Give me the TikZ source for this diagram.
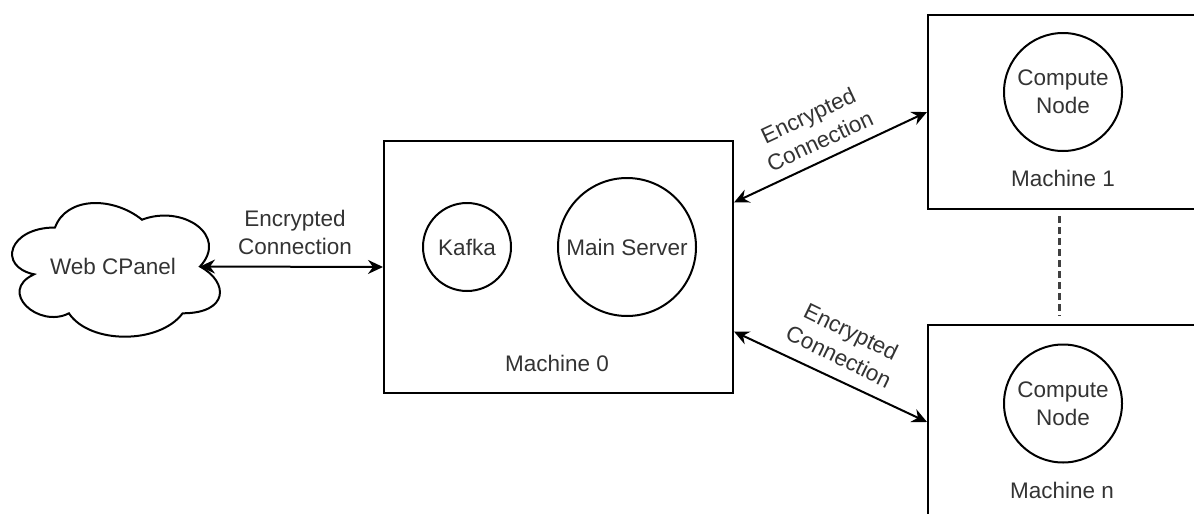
\documentclass[tikz,border=0pt]{standalone}
\usepackage{fontspec}
\setmainfont{Liberation Sans}
\usetikzlibrary{arrows.meta,calc}
\definecolor{txt}{HTML}{333333}
\begin{document}
\begin{tikzpicture}[x=0.5pt,y=-0.5pt,
  box/.style={draw, rectangle, line width=1pt, inner sep=0pt},
  proc/.style={draw, circle, line width=1pt, inner sep=0pt, text=txt,
    font=\fontsize{11.25}{14}\selectfont, align=center},
  lbl/.style={text=txt, font=\fontsize{11.25}{14}\selectfont, align=center, inner sep=0pt},
  tip/.style={Stealth[length=7.5pt,width=7pt,inset=2.5pt]},
  conn/.style={line width=1pt, {Stealth[length=7.5pt,width=7pt,inset=2.5pt]}-{Stealth[length=7.5pt,width=7pt,inset=2.5pt]}},
  dashline/.style={line width=1.5pt, black!75, dash pattern=on 3.5pt off 2pt,
    shorten <=3pt, shorten >=4pt}]
\useasboundingbox (0,0) rectangle (1194,514);
\clip (0,0) rectangle (1194,514);

% web control panel (cloud)
\draw[line width=1pt] (55,227.5)
  .. controls (8.6,227.5) and (-3,266.5) .. (34.12,274.3)
  .. controls (-3,291.46) and (38.76,328.9) .. (68.92,313.3)
  .. controls (89.8,344.5) and (159.4,344.5) .. (182.6,313.3)
  .. controls (229,313.3) and (229,282.1) .. (200,266.5)
  .. controls (229,235.3) and (182.6,204.1) .. (142,219.7)
  .. controls (113,196.3) and (66.6,196.3) .. (55,227.5) -- cycle;
\node[lbl] (cpanel) at (113,266.5) {Web CPanel};
\coordinate (cloudE) at (200,266.5);

% machines
\node[box, minimum width=174.5pt, minimum height=126pt] (m0) at (558.5,267) {};
\node[box, minimum width=135pt, minimum height=97pt] (m1) at (1063,112) {};
\node[box, minimum width=135pt, minimum height=97pt] (mn) at (1063,422) {};

% processes
\node[proc, minimum size=44pt] (kafka) at (467,247) {Kafka};
\node[proc, minimum size=69pt] (srv) at (627,247) {Main Server};
\node[proc, minimum size=59pt] (c1) at (1063,92) {Compute\\Node};
\node[proc, minimum size=59pt] (cn) at (1063,403.5) {Compute\\Node};

\node[lbl] (m0lbl) at (557,363) {Machine 0};
\node[lbl] (m1lbl) at (1063,178) {Machine 1};
\node[lbl] (mnlbl) at (1062,490) {Machine n};

% connections
\draw[conn] (cloudE) -- (m0.west);
\node[lbl] (e0) at (295,232) {Encrypted\\Connection};

\draw[conn] ($(m0.south east)!0.754!(m0.north east)$) -- (m1.west);
\node[lbl, rotate=25] (e1) at (814,128) {Encrypted\\Connection};

\draw[conn] ($(m0.south east)!0.246!(m0.north east)$) -- (mn.west);
\node[lbl, rotate=-26] (e2) at (845,344) {Encrypted\\Connection};

\draw[dashline] ([xshift=-2pt]m1.south) -- ([xshift=-2pt]mn.north);
\end{tikzpicture}
\end{document}
